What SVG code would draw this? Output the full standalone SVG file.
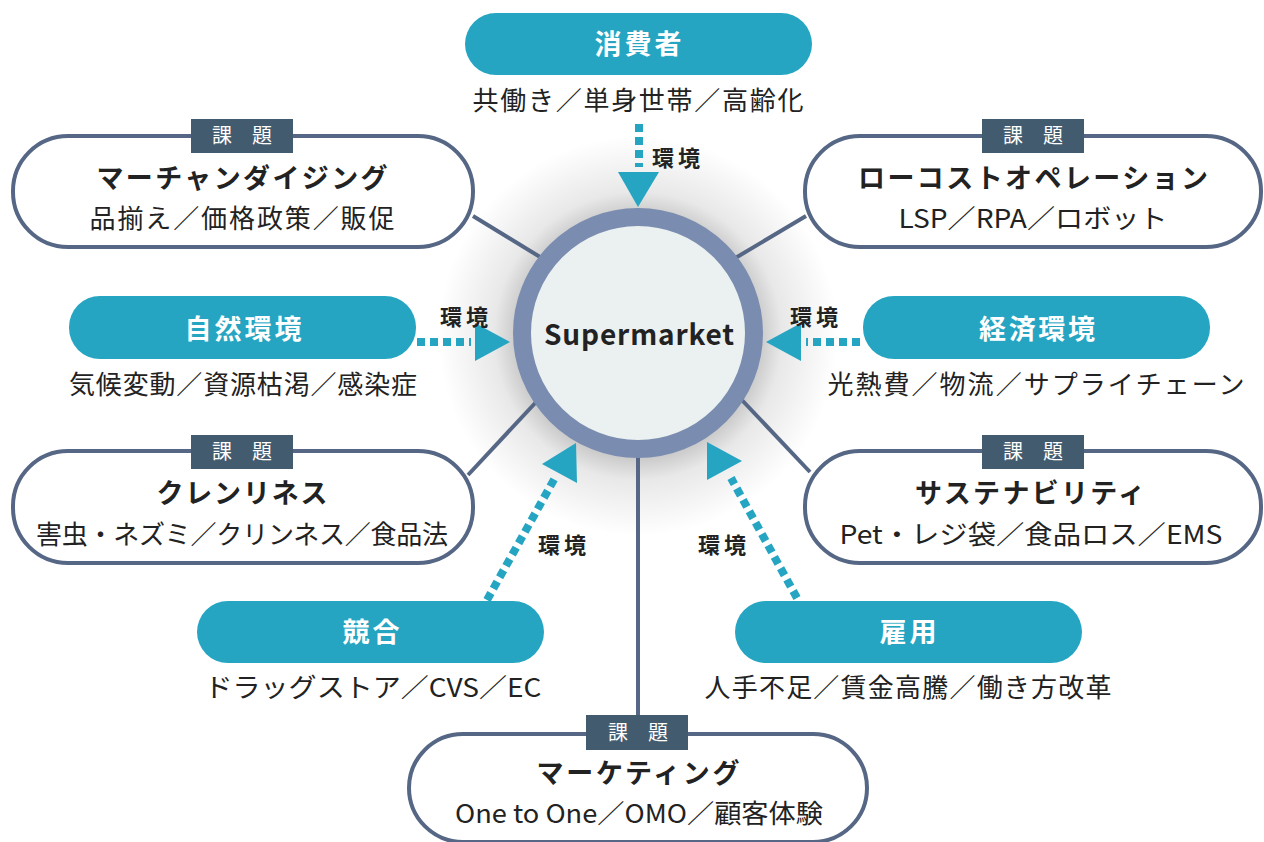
<svg xmlns="http://www.w3.org/2000/svg" width="1264" height="842" viewBox="0 0 1264 842">
<defs>
<radialGradient id="sh" cx="638" cy="336" r="200" gradientUnits="userSpaceOnUse">
<stop offset="0.58" stop-color="#000" stop-opacity="0.24"/>
<stop offset="0.72" stop-color="#000" stop-opacity="0.09"/>
<stop offset="1" stop-color="#000" stop-opacity="0"/>
</radialGradient>
<style>
text{font-family:"Noto Sans CJK JP","Noto Sans",sans-serif;text-anchor:middle}
.pill{fill:#25A5C2}
.box{fill:#fff;stroke:#566785;stroke-width:4}
.tag{fill:#435B6E}
.tagt{fill:#fff;font-size:20px}
.pt{fill:#fff;font-size:27px;font-weight:bold}
.tt{fill:#222;font-size:27px;font-weight:bold}
.st{fill:#222;font-size:26px}
.env{fill:#222;font-size:22px;font-weight:bold}
.ln{stroke:#566785;stroke-width:4;fill:none}
.dot{stroke:#25A5C2;stroke-width:8;stroke-dasharray:8 5;fill:none}
.ah{fill:#25A5C2}
</style>
</defs>
<rect width="1264" height="842" fill="#fff"/>
<circle cx="638" cy="336" r="200" fill="url(#sh)"/>

<g id="connectors">
<line class="ln" x1="473" y1="216" x2="545" y2="260"/>
<line class="ln" x1="806" y1="216" x2="732" y2="260"/>
<line class="ln" x1="468" y1="475" x2="538" y2="400"/>
<line class="ln" x1="810" y1="472" x2="740" y2="398"/>
<line class="ln" x1="638" y1="450" x2="638" y2="716"/>
<line class="dot" x1="639" y1="124" x2="639" y2="167"/>
<polygon class="ah" points="618,172 659,172 638,207"/>
<line class="dot" x1="417" y1="342" x2="471" y2="342"/>
<polygon class="ah" points="475,323 475,361 510,342"/>
<line class="dot" x1="860" y1="342" x2="806" y2="342"/>
<polygon class="ah" points="801,323 801,361 766,342"/>
<line class="dot" x1="487" y1="600" x2="556" y2="476"/>
<polygon class="ah" points="576,443 542,464 577,483"/>
<line class="dot" x1="797" y1="598" x2="731" y2="478"/>
<polygon class="ah" points="707,442 742,461 707,480"/>
<text class="env" x="676" y="166" textLength="48">環境</text>
<text class="env" x="464" y="325" textLength="48">環境</text>
<text class="env" x="814" y="325" textLength="48">環境</text>
<text class="env" x="562" y="553" textLength="48">環境</text>
<text class="env" x="722" y="553" textLength="48">環境</text>
</g>

<g id="consumer">
<rect class="pill" x="465" y="13" width="347" height="62" rx="31"/>
<text class="pt" x="638" y="54" textLength="87">消費者</text>
<text class="st" x="638" y="110" textLength="331">共働き／単身世帯／高齢化</text>
</g>

<g id="merchandising">
<rect class="box" x="13" y="136" width="460" height="111" rx="55"/>
<rect class="tag" x="191" y="119" width="102" height="34"/>
<text class="tagt" x="242" y="143" textLength="60">課 題</text>
<text class="tt" x="242" y="188" textLength="291">マーチャンダイジング</text>
<text class="st" x="242" y="228" textLength="305">品揃え／価格政策／販促</text>
</g>

<g id="lowcost">
<rect class="box" x="805" y="136" width="456" height="111" rx="55"/>
<rect class="tag" x="982" y="119" width="102" height="34"/>
<text class="tagt" x="1033" y="143" textLength="60">課 題</text>
<text class="tt" x="1033" y="188" textLength="350">ローコストオペレーション</text>
<text class="st" x="1033" y="228" textLength="269" lengthAdjust="spacingAndGlyphs">LSP／RPA／ロボット</text>
</g>

<g id="nature">
<rect class="pill" x="69" y="296" width="347" height="63" rx="31"/>
<text class="pt" x="243" y="339" textLength="117">自然環境</text>
<text class="st" x="243" y="394" textLength="348">気候変動／資源枯渇／感染症</text>
</g>

<g id="economy">
<rect class="pill" x="863" y="296" width="347" height="63" rx="31"/>
<text class="pt" x="1037" y="339" textLength="116">経済環境</text>
<text class="st" x="1036" y="394" textLength="417">光熱費／物流／サプライチェーン</text>
</g>

<g id="cleanliness">
<rect class="box" x="13" y="451" width="460" height="112" rx="55"/>
<rect class="tag" x="191" y="435" width="102" height="34"/>
<text class="tagt" x="242" y="459" textLength="60">課 題</text>
<text class="tt" x="242" y="503" textLength="171">クレンリネス</text>
<text class="st" x="242" y="544" textLength="412">害虫・ネズミ／クリンネス／食品法</text>
</g>

<g id="sustainability">
<rect class="box" x="805" y="451" width="456" height="112" rx="55"/>
<rect class="tag" x="982" y="435" width="102" height="34"/>
<text class="tagt" x="1033" y="459" textLength="60">課 題</text>
<text class="tt" x="1030" y="503" textLength="230">サステナビリティ</text>
<text class="st" x="1031" y="544" textLength="383" lengthAdjust="spacingAndGlyphs">Pet・レジ袋／食品ロス／EMS</text>
</g>

<g id="competition">
<rect class="pill" x="197" y="601" width="347" height="62" rx="31"/>
<text class="pt" x="371" y="642" textLength="57">競合</text>
<text class="st" x="373" y="697" textLength="337" lengthAdjust="spacingAndGlyphs">ドラッグストア／CVS／EC</text>
</g>

<g id="employment">
<rect class="pill" x="735" y="601" width="347" height="62" rx="31"/>
<text class="pt" x="908" y="642" textLength="57">雇用</text>
<text class="st" x="908" y="697" textLength="407">人手不足／賃金高騰／働き方改革</text>
</g>

<g id="marketing">
<rect class="box" x="409" y="734" width="458" height="108" rx="54"/>
<rect class="tag" x="586" y="715" width="102" height="35"/>
<text class="tagt" x="638" y="740" textLength="60">課 題</text>
<text class="tt" x="638" y="783" textLength="203">マーケティング</text>
<text class="st" x="639" y="823" textLength="368" lengthAdjust="spacingAndGlyphs">One to One／OMO／顧客体験</text>
</g>

<g id="supermarket">
<circle cx="638" cy="333" r="116" fill="#EBF0F0" stroke="#7A8DB0" stroke-width="18"/>
<text x="639" y="345" fill="#222" font-size="28" font-weight="bold" textLength="190">Supermarket</text>
</g>
</svg>
